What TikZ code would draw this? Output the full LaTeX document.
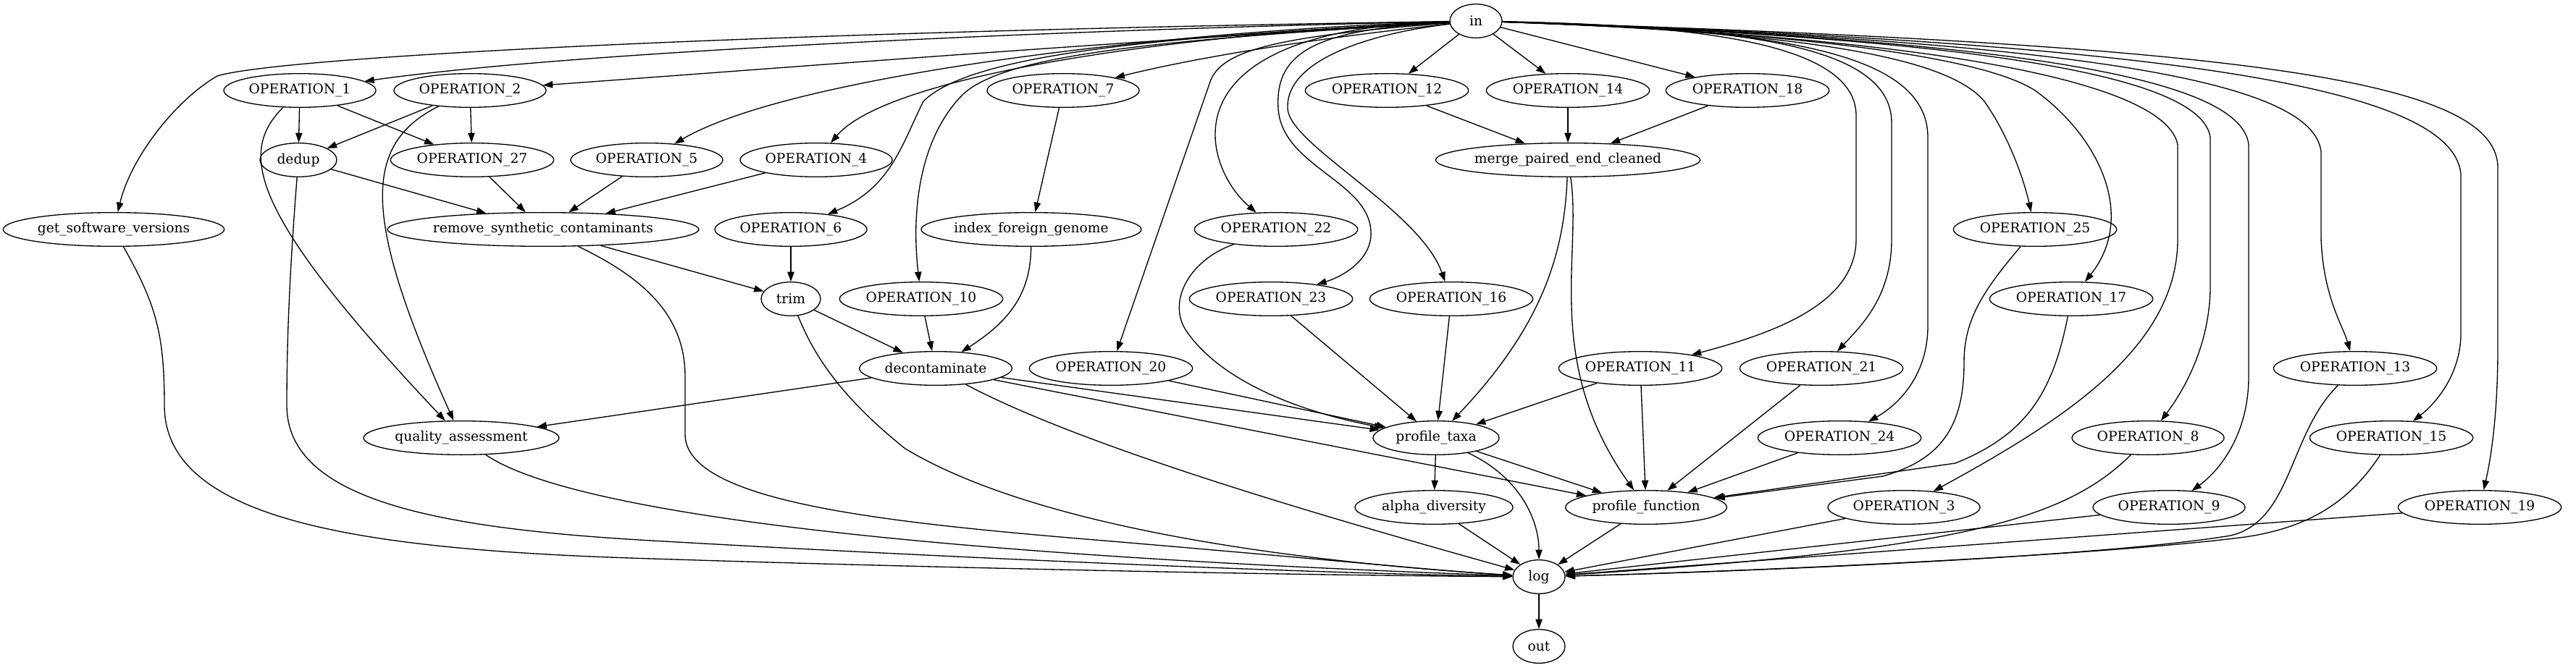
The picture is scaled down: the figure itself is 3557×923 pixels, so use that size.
\documentclass[tikz,border=0pt]{standalone}
\usepackage{fontspec}
\setmainfont{DejaVu Serif}
\usetikzlibrary{shapes.geometric,arrows.meta}

\begin{document}
\begin{tikzpicture}[x=0.75pt, y=-0.75pt, font=\fontsize{14}{16}\selectfont, line join=round, >={Triangle[length=10pt,width=7pt]}]
	\tikzset{op/.style={draw, ellipse, inner sep=0pt, minimum height=35pt, line width=1pt},
		edge/.style={->, line width=1pt}}
	\useasboundingbox (0,0) rectangle (3557,923);
	% nodes: name/label/x/y/width
	\foreach \n/\t/\x/\y/\w in {in/in/2038/29/54, o1/OPERATION\_1/414/125/157.5, o2/OPERATION\_2/649/125/157.5,
		o7/OPERATION\_7/1468/125/157.5, o12/OPERATION\_12/1915/125/169, o14/OPERATION\_14/2165/125/169,
		o18/OPERATION\_18/2413/125/169, dedup/dedup/412/221/79.5, o27/OPERATION\_27/652/221/169,
		o5/OPERATION\_5/893/221/157.5, o4/OPERATION\_4/1127/221/157.5, merge/merge\_paired\_end\_cleaned/2165/221/271.5,
		sw/get\_software\_versions/157/317/229, rsc/remove\_synthetic\_contaminants/750/317/319,
		o6/OPERATION\_6/1092/317/157.5, ifg/index\_foreign\_genome/1424/317/228, o22/OPERATION\_22/1762/317/169,
		o25/OPERATION\_25/2810/317/169, trim/trim/1092/413/61.5, o10/OPERATION\_10/1272/413/169,
		o23/OPERATION\_23/1755/413/169, o16/OPERATION\_16/2004/413/169, o17/OPERATION\_17/2860/413/169,
		dec/decontaminate/1292/509/158, o20/OPERATION\_20/1534/509/169, o11/OPERATION\_11/2265/509/169,
		o21/OPERATION\_21/2515/509/169, o13/OPERATION\_13/3252/509/169, qa/quality\_assessment/637/605/202.5,
		pt/profile\_taxa/1983/605/130.5, o24/OPERATION\_24/2540/605/169, o8/OPERATION\_8/2966/605/157.5,
		o15/OPERATION\_15/3302/605/169, ad/alpha\_diversity/1980/701/163.5, pf/profile\_function/2273/701/167,
		o3/OPERATION\_3/2629/701/157.5, o9/OPERATION\_9/2995/701/157.5, o19/OPERATION\_19/3424/701/169,
		log/log/2125/797/54, out/out/2125/893/54}
		\node[op, minimum width=\w pt] (\n) at (\x,\y) {\t};

	% fan out of in, left side
	\draw[edge] (in) .. controls (1500,40) and (800,70) .. (o1);
	\draw[edge] (in) .. controls (1500,60) and (1000,100) .. (o2);
	\draw[edge] (in) .. controls (1000,45) and (380,80) .. (300,105) .. controls (240,140) and (180,220) .. (sw);
	\draw[edge] (in) .. controls (1650,40) and (1100,100) .. (o5);
	\draw[edge] (in) .. controls (1650,45) and (1230,100) .. (o4);
	\draw[edge] (in) .. controls (1600,50) and (1340,75) .. (1275,140) .. controls (1245,200) and (1230,260) .. (o6);
	\draw[edge] (in) .. controls (1600,55) and (1390,75) .. (1330,130) .. controls (1270,190) and (1258,290) .. (o10);
	\draw[edge] (in) .. controls (1800,55) and (1650,80) .. (o7);
	\draw[edge] (in) .. controls (1760,50) and (1690,70) .. (1672,110) -- (o20);
	\draw[edge] (in) .. controls (1600,40) and (1660,230) .. (o22);
	\draw[edge] (in) .. controls (1820,40) and (1760,70) .. (1765,150) .. controls (1770,230) and (1890,250) .. (1893,320) .. controls (1895,355) and (1860,380) .. (o23);
	\draw[edge] (in) .. controls (1900,45) and (1775,80) .. (1778,150) .. controls (1780,200) and (1960,290) .. (o16);
	\draw[edge] (in) -- (o12);
	\draw[edge] (in) -- (o14);
	\draw[edge] (in) -- (o18);
	% fan out of in, right side
	\draw[edge] (in) .. controls (2350,35) and (2563,60) .. (2563,160) -- (2563,330) .. controls (2563,420) and (2450,460) .. (o11);
	\draw[edge] (in) .. controls (2400,38) and (2612,60) .. (2612,170) -- (2612,330) .. controls (2612,410) and (2570,450) .. (o21);
	\draw[edge] (in) .. controls (2450,40) and (2662,70) .. (2662,190) -- (2662,450) .. controls (2662,520) and (2620,560) .. (o24);
	\draw[edge] (in) .. controls (2500,45) and (2690,80) .. (2740,140) .. controls (2775,190) and (2795,250) .. (o25);
	\draw[edge] (in) .. controls (2500,45) and (2740,80) .. (2810,125) .. controls (2900,190) and (2950,300) .. (o17);
	\draw[edge] (in) .. controls (2650,50) and (2990,110) .. (3007,200) -- (3007,330) .. controls (3007,480) and (2850,580) .. (o3);
	\draw[edge] (in) .. controls (2700,52) and (3040,100) .. (3052,190) -- (3052,400) .. controls (3050,480) and (3015,540) .. (o8);
	\draw[edge] (in) .. controls (2800,55) and (3095,110) .. (3105,200) -- (3105,520) .. controls (3105,600) and (3065,650) .. (o9);
	\draw[edge] (in) .. controls (2900,58) and (3195,115) .. (3205,210) -- (3205,330) .. controls (3208,410) and (3235,450) .. (o13);
	\draw[edge] (in) .. controls (3000,60) and (3385,120) .. (3398,240) -- (3398,460) .. controls (3398,520) and (3360,560) .. (o15);
	\draw[edge] (in) .. controls (3100,62) and (3445,110) .. (3449,230) -- (3449,480) .. controls (3449,580) and (3438,640) .. (o19);

	% middle of the flow
	\draw[edge] (o1) -- (dedup);
	\draw[edge] (o1) -- (o27);
	\draw[edge] (o1) .. controls (330,210) and (340,290) .. (qa);
	\draw[edge] (o2) -- (dedup);
	\draw[edge] (o2) -- (o27);
	\draw[edge] (o2) .. controls (500,200) and (500,300) .. (qa);
	\draw[edge] (dedup) -- (rsc);
	\draw[edge] (o27) -- (rsc);
	\draw[edge] (o5) -- (rsc);
	\draw[edge] (o4) -- (rsc);
	\draw[edge] (o12) -- (merge);
	\draw[edge] (o14) -- (merge);
	\draw[edge] (o18) -- (merge);
	\draw[edge] (o6) -- (trim);
	\draw[edge] (rsc) -- (trim);
	\draw[edge] (o7) -- (ifg);
	\draw[edge] (trim) -- (dec);
	\draw[edge] (o10) -- (dec);
	\draw[edge] (ifg) .. controls (1423,400) and (1400,440) .. (dec);
	\draw[edge] (dec) -- (qa);
	\draw[edge] (dec) -- (pt);
	\draw[edge] (dec) -- (pf);
	\draw[edge] (o20) -- (pt);
	\draw[edge] (o22) .. controls (1640,360) and (1610,420) .. (1640,460) .. controls (1690,530) and (1800,570) .. (pt);
	\draw[edge] (o23) -- (pt);
	\draw[edge] (o16) -- (pt);
	\draw[edge] (merge) .. controls (2160,350) and (2130,450) .. (pt);
	\draw[edge] (merge) .. controls (2185,350) and (2130,500) .. (pf);
	\draw[edge] (o11) -- (pt);
	\draw[edge] (o11) -- (pf);
	\draw[edge] (o21) -- (pf);
	\draw[edge] (o24) -- (pf);
	\draw[edge] (o25) .. controls (2740,400) and (2712,440) .. (2712,500) .. controls (2712,590) and (2680,635) .. (2600,658) -- (pf);
	\draw[edge] (o17) .. controls (2835,540) and (2800,600) .. (2700,640) -- (pf);
	\draw[edge] (pt) -- (ad);
	\draw[edge] (pt) -- (pf);

	% into log
	\draw[edge] (sw) .. controls (215,420) and (227,460) .. (227,560) .. controls (227,720) and (500,760) .. (900,772) .. controls (1300,785) and (1800,795) .. (log);
	\draw[edge] (dedup) .. controls (402,350) and (396,450) .. (396,560) .. controls (396,690) and (600,730) .. (900,747) .. controls (1300,770) and (1800,792) .. (log);
	\draw[edge] (qa) .. controls (760,690) and (1100,760) .. (log);
	\draw[edge] (rsc) .. controls (880,380) and (946,430) .. (946,520) -- (946,600) .. controls (946,690) and (1200,720) .. (1500,745) .. controls (1800,770) and (2000,790) .. (log);
	\draw[edge] (trim) .. controls (1120,480) and (1150,540) .. (1250,620) .. controls (1450,740) and (1850,780) .. (log);
	\draw[edge] (dec) .. controls (1500,620) and (1850,720) .. (log);
	\draw[edge] (pt) .. controls (2100,660) and (2125,720) .. (log);
	\draw[edge] (ad) -- (log);
	\draw[edge] (pf) -- (log);
	\draw[edge] (o3) -- (log);
	\draw[edge] (o8) .. controls (2850,720) and (2700,760) .. (log);
	\draw[edge] (o9) -- (log);
	\draw[edge] (o13) .. controls (3160,600) and (3165,720) .. (3080,740) .. controls (2900,770) and (2400,790) .. (log);
	\draw[edge] (o15) .. controls (3240,700) and (3180,730) .. (3100,742) .. controls (2900,768) and (2400,790) .. (log);
	\draw[edge] (o19) -- (log);
	\draw[edge] (log) -- (out);
\end{tikzpicture}
\end{document}
